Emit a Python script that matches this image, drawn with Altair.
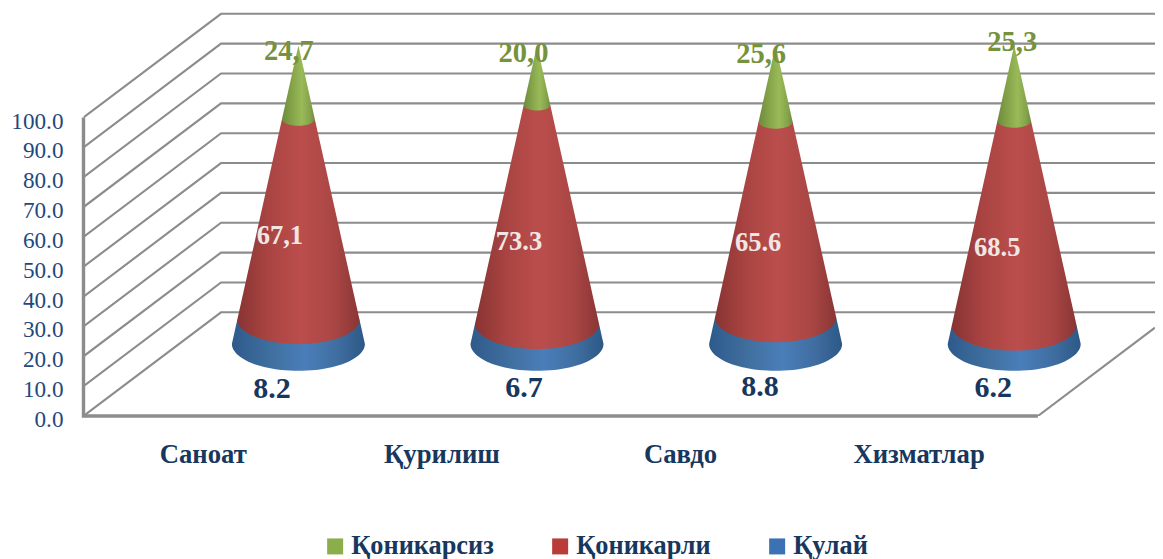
import json
import math
import altair as alt
import pandas as pd

# ---- chart content ----
CATEGORIES = ["Саноат", "Қурилиш", "Савдо", "Хизматлар"]
SERIES = ["Қоникарсиз", "Қоникарли", "Қулай"]
KULAY = [8.2, 6.7, 8.8, 6.2]
KONIKARLI = [67.1, 73.3, 65.6, 68.5]
KONIKARSIZ = [24.7, 20.0, 25.6, 25.3]
LABEL_KULAY = ["8.2", "6.7", "8.8", "6.2"]
LABEL_KONIKARLI = ["67,1", "73.3", "65.6", "68.5"]
LABEL_KONIKARSIZ = ["24,7", "20,0", "25,6", "25,3"]
Y_TICKS = [0, 10, 20, 30, 40, 50, 60, 70, 80, 90, 100]

# ---- geometry of the oblique view (pixels) ----
LEFT, ZERO_Y = 83.5, 416.0
PX_PER_CAT, PX_PER_UNIT = 238.6, 2.985
DEPTH_X, DEPTH_Y = 137.5, 103.7
PLOT_W, PLOT_H = 1071.5, 408.0
CONE_SHIFT, CONE_R, ELLIPSE = 95.6, 66.5, 0.405
XMAX, YMAX = PLOT_W / PX_PER_CAT, PLOT_H / PX_PER_UNIT
DX, DY = DEPTH_X / PX_PER_CAT, DEPTH_Y / PX_PER_UNIT
CONE_DY = DY * CONE_SHIFT / DEPTH_X

# label nudges in pixels from each segment's anchor
NUDGE_GREEN = [(-9.5, 5.5), (-13.5, 8), (-14.5, 8.5), (-2, -3.5)]
NUDGE_RED = [(-18.5, 16.6), (-18, 27.4), (-17.5, 23.2), (-17, 24.7)]
NUDGE_BLUE = [(-26.5, 18), (-13, 17), (-15.5, 16), (-21, 17)]

NAVY = "#17375e"
AXIS_BLUE = "#1f497d"
GRID = "#8c8c8c"
SERIF = "Liberation Serif"


def gradient(stops):
    return {
        "gradient": "linear", "x1": 0, "y1": 0, "x2": 1, "y2": 0,
        "stops": [{"offset": o, "color": c} for o, c in stops],
    }


GRAD_BLUE = gradient([(0, "#2e5a8b"), (0.3, "#40709f"), (0.55, "#4a7eb9"), (0.8, "#3f6da0"), (1, "#2d5886")])
GRAD_RED = gradient([(0, "#883433"), (0.25, "#a94442"), (0.52, "#bb4e4c"), (0.8, "#a94644"), (1, "#8a3635")])
GRAD_GREEN = gradient([(0, "#6d8b3c"), (0.3, "#84a349"), (0.6, "#99ba58"), (0.85, "#86a44c"), (1, "#6f8d3d")])


def segment(cone, v0, v1):
    """Outline of one slice of a cone, in scale units."""
    cx = cone + 0.5 + CONE_SHIFT / PX_PER_CAT
    base = CONE_DY
    r0 = CONE_R * (1 - v0 / 100)
    r1 = CONE_R * (1 - v1 / 100)
    n = 48
    xs = {round(r0 * math.cos(math.pi * k / n), 4) for k in range(n + 1)}
    xs |= {r1, -r1, round(r1 * 0.5, 4), round(-r1 * 0.5, 4)}
    rows = []
    for px in sorted(xs):
        low = v0 + base - ELLIPSE * math.sqrt(max(0, r0**2 - px**2)) / PX_PER_UNIT
        if abs(px) <= r1:
            top = v1 + base
        else:
            t = (abs(px) - r1) / (r0 - r1)
            top = v1 + base + (v0 - v1) * t
        rows.append({"cone": cone, "x": cx + px / PX_PER_CAT, "top": top, "low": low})
    return rows


rows_blue, rows_red, rows_green = [], [], []
label_rows = {"green": [], "red": [], "blue": []}
for i in range(len(CATEGORIES)):
    a, b = KULAY[i], KULAY[i] + KONIKARLI[i]
    c = b + KONIKARSIZ[i]
    rows_blue += segment(i, 0, a)
    rows_red += segment(i, a, b)
    rows_green += segment(i, b, c)
    cx = i + 0.5 + CONE_SHIFT / PX_PER_CAT
    for key, text, vy, nudge in (
        ("green", LABEL_KONIKARSIZ[i], c + CONE_DY, NUDGE_GREEN[i]),
        ("red", LABEL_KONIKARLI[i], (a + b) / 2 + CONE_DY, NUDGE_RED[i]),
        ("blue", LABEL_KULAY[i], CONE_DY - ELLIPSE * CONE_R / PX_PER_UNIT, NUDGE_BLUE[i]),
    ):
        label_rows[key].append({
            "x": cx + nudge[0] / PX_PER_CAT,
            "y": vy - nudge[1] / PX_PER_UNIT,
            "text": text,
        })

grid_rows = []
for v in Y_TICKS:
    for k, (x, y) in enumerate([(0, v), (DX, v + DY), (XMAX, v + DY)]):
        grid_rows.append({"level": v, "idx": k, "x": x, "y": y})

n_cat = len(CATEGORIES)
frame_rows = [
    {"part": "a", "idx": 0, "x": 0, "y": 100},
    {"part": "a", "idx": 1, "x": 0, "y": 0},
    {"part": "a", "idx": 2, "x": n_cat, "y": 0},
]
side_rows = [
    {"part": "b", "idx": 0, "x": n_cat, "y": 0},
    {"part": "b", "idx": 1, "x": XMAX, "y": (XMAX - n_cat) * DY / DX},
]
legend_rows = [{"x": 0, "y": 0, "series": s} for s in SERIES]

label_expr = json.dumps(CATEGORIES, ensure_ascii=False) + "[floor(datum.value)]"
X = alt.X(
    "x:Q",
    title=None,
    scale=alt.Scale(domain=[0, XMAX], nice=False, zero=False),
    axis=alt.Axis(
        values=[k + 0.5 for k in range(n_cat)],
        labelExpr=label_expr,
        grid=False, domain=False, ticks=False,
        labelFont=SERIF, labelFontSize=26.7, labelFontWeight="bold", labelColor=NAVY,
        labelPadding=25, labelFlush=False, labelOverlap=False, labelLimit=300,
    ),
)
Y_SCALE = alt.Scale(domain=[0, YMAX], nice=False, zero=False)
Y_AXIS = alt.Axis(
    values=Y_TICKS, format=".1f",
    grid=False, domain=False, ticks=False,
    labelFont=SERIF, labelFontSize=23.2, labelColor=AXIS_BLUE,
    labelPadding=20.5, labelOffset=3.5, labelFlush=False, labelOverlap=False,
)


def yy(field):
    return alt.Y(field, title=None, scale=Y_SCALE, axis=Y_AXIS)


grid_layer = alt.Chart(pd.DataFrame(grid_rows)).mark_line(
    color=GRID, strokeWidth=2.1, clip=True
).encode(x=X, y=yy("y:Q"), detail="level:N", order="idx:Q")

frame_layer = alt.Chart(pd.DataFrame(frame_rows)).mark_line(
    color=GRID, strokeWidth=3.4, clip=False, strokeJoin="miter"
).encode(x=X, y=yy("y:Q"), order="idx:Q")

side_layer = alt.Chart(pd.DataFrame(side_rows)).mark_line(
    color=GRID, strokeWidth=2.1, clip=True
).encode(x=X, y=yy("y:Q"), order="idx:Q")


def area_layer(rows, grad):
    return alt.Chart(pd.DataFrame(rows)).mark_area(color=grad).encode(
        x=X, y=yy("top:Q"), y2="low:Q", detail="cone:N"
    )


def text_layer(rows, color, size):
    return alt.Chart(pd.DataFrame(rows)).mark_text(
        font=SERIF, fontWeight="bold", fontSize=size, color=color,
        align="center", baseline="middle",
    ).encode(x=X, y=yy("y:Q"), text="text:N")


legend_layer = alt.Chart(pd.DataFrame(legend_rows)).mark_square(size=0).encode(
    x=X, y=yy("y:Q"),
    color=alt.Color(
        "series:N",
        scale=alt.Scale(domain=SERIES, range=["#8bad4a", "#b93c38", "#3a72b4"]),
        legend=alt.Legend(
            title=None, orient="none", direction="horizontal",
            legendX=238.5, legendY=525,
            symbolType="square", symbolSize=256, symbolStrokeWidth=0, symbolOpacity=1,
            labelFont=SERIF, labelFontSize=26.3, labelFontWeight="bold", labelColor=NAVY,
            labelLimit=400, columnPadding=53, labelOffset=3, padding=0,
        ),
    ),
)

chart = alt.layer(
    grid_layer, side_layer, frame_layer,
    area_layer(rows_blue, GRAD_BLUE),
    area_layer(rows_red, GRAD_RED),
    area_layer(rows_green, GRAD_GREEN),
    legend_layer,
    text_layer(label_rows["green"], "#76923c", 28.5),
    text_layer(label_rows["red"], "#f2e6e4", 26.5),
    text_layer(label_rows["blue"], NAVY, 30),
).properties(
    width=PLOT_W, height=PLOT_H,
    autosize=alt.AutoSizeParams(type="none"),
    padding={"left": LEFT - 8, "top": 0, "right": 0, "bottom": 143},
    background="white",
).configure_view(stroke=None)

chart.save("out.html", embed_options={"renderer": "svg", "actions": False})
